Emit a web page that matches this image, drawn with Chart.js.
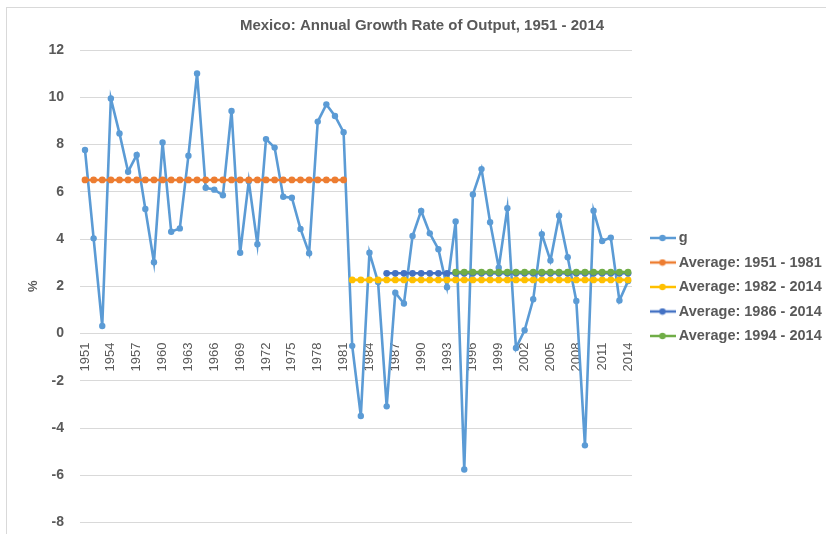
<!DOCTYPE html>
<html>
<head>
<meta charset="utf-8">
<script src="https://cdn.jsdelivr.net/npm/chart.js@4/dist/chart.umd.min.js"></script>
<style>
  html, body { margin: 0; padding: 0; background: #ffffff; overflow: hidden; width: 826px; height: 534px; }
  #frame { position: absolute; left: 6px; top: 7px; width: 900px; height: 600px; border-left: 1px solid #d9d9d9; border-top: 1px solid #d9d9d9; }
  #c { position: absolute; left: 0; top: 0; }
</style>
</head>
<body>
<div id="frame"></div>
<canvas id="c" width="844" height="547"></canvas>
<script>
// ---- data ----
const years = [1951,1952,1953,1954,1955,1956,1957,1958,1959,1960,1961,1962,1963,1964,1965,1966,1967,1968,1969,1970,
  1971,1972,1973,1974,1975,1976,1977,1978,1979,1980,1981,1982,1983,1984,1985,1986,1987,1988,1989,1990,
  1991,1992,1993,1994,1995,1996,1997,1998,1999,2000,2001,2002,2003,2004,2005,2006,2007,2008,2009,2010,
  2011,2012,2013,2014];
const growth = [7.77,4.03,0.32,9.95,8.47,6.85,7.56,5.27,3.02,8.09,4.31,4.45,7.53,11.01,6.17,6.09,5.85,9.42,3.42,6.45,
  3.78,8.23,7.87,5.79,5.75,4.43,3.40,8.97,9.70,9.21,8.52,-0.52,-3.49,3.42,2.18,-3.08,1.73,1.27,4.13,5.19,
  4.24,3.57,1.96,4.74,-5.75,5.89,6.96,4.71,2.79,5.30,-0.61,0.14,1.45,4.21,3.09,4.99,3.23,1.38,-4.73,5.20,
  3.92,4.06,1.40,2.22];
const avgLabels = ['Average: 1951 - 1981','Average: 1982 - 2014','Average: 1986 - 2014','Average: 1994 - 2014'];
const avgValues = [6.50, 2.27, 2.55, 2.60];
const avgStart = [1951, 1982, 1986, 1994];
const avgEnd = [1981, 2014, 2014, 2014];
const tickYears = [1951,1954,1957,1960,1963,1966,1969,1972,1975,1978,1981,1984,1987,1990,1993,1996,1999,2002,2005,2008,2011,2014];
const yTicks = [-8,-6,-4,-2,0,2,4,6,8,10,12];

// ---- styling ----
const gColor = '#5B9BD5';
const avgColors = ['#ED7D31', '#FFC000', '#4472C4', '#70AD47'];
const textGray = '#595959';
Chart.defaults.font.family = '"Liberation Sans", Arial, sans-serif';

function marker(color) {
  const cv = document.createElement('canvas');
  cv.width = 26; cv.height = 8;
  const x = cv.getContext('2d');
  x.strokeStyle = color; x.lineWidth = 2.5;
  x.beginPath(); x.moveTo(0, 4); x.lineTo(26, 4); x.stroke();
  x.fillStyle = color;
  x.beginPath(); x.arc(13, 4, 3.2, 0, Math.PI * 2); x.fill();
  return cv;
}
const markers = [marker(gColor)].concat(avgColors.map(marker));

const datasets = [{
  label: 'g',
  data: years.map((yr, i) => ({x: yr, y: growth[i]})),
  borderColor: gColor, backgroundColor: gColor,
  pointBackgroundColor: gColor, pointBorderColor: gColor,
  borderWidth: 2.6, pointRadius: 3.2, pointBorderWidth: 0, pointHoverRadius: 3.2,
  tension: 0, order: 5
}];
avgLabels.forEach((lab, k) => {
  datasets.push({
    label: lab,
    data: years.filter(yr => yr >= avgStart[k] && yr <= avgEnd[k]).map(yr => ({x: yr, y: avgValues[k]})),
    borderColor: avgColors[k], backgroundColor: avgColors[k],
    pointBackgroundColor: avgColors[k], pointBorderColor: avgColors[k],
    borderWidth: 2.6, pointRadius: 3.4, pointBorderWidth: 0, pointHoverRadius: 3.4,
    tension: 0, order: 4 - k
  });
});

const boxMover = {
  id: 'boxMover',
  afterLayout(chart) {
    const lg = chart.legend;
    if (lg) {
      const h = lg.bottom - lg.top;
      lg.left = 643.5; lg.right = 844; lg.width = lg.right - lg.left;
      lg.top += 13.5; lg.bottom = lg.top + h;
    }
    const tb = chart.titleBlock;
    if (tb) { tb.left = 0; tb.right = 844; tb.width = 844; }
  }
};

new Chart(document.getElementById('c'), {
  type: 'line',
  data: { datasets },
  plugins: [boxMover],
  options: {
    responsive: false,
    animation: false,
    events: [],
    layout: { padding: { left: 0, right: 62, top: 0, bottom: 0 } },
    scales: {
      x: {
        type: 'linear',
        position: { y: 0 },
        min: 1950.42, max: 2014.46,
        grid: { display: false, drawTicks: false },
        border: { display: false },
        afterBuildTicks: (scale) => { scale.ticks = tickYears.map(v => ({ value: v })); },
        ticks: {
          autoSkip: false, minRotation: 90, maxRotation: 90, padding: 9,
          color: textGray, font: { size: 13 },
          callback: (v) => String(v)
        }
      },
      y: {
        min: -8, max: 12,
        afterBuildTicks: (scale) => { scale.ticks = yTicks.map(v => ({ value: v })); },
        afterFit: (scale) => { scale.width = 80; },
        grid: { color: '#d9d9d9', lineWidth: 1, drawTicks: false },
        border: { display: false },
        ticks: { padding: 16, color: textGray, font: { size: 14, weight: 'bold' } },
        title: { display: true, text: '%', color: textGray, font: { size: 13, weight: 'bold' }, padding: { top: 26, bottom: 0 } }
      }
    },
    plugins: {
      title: {
        display: true,
        text: 'Mexico: Annual Growth Rate of Output, 1951 - 2014',
        color: textGray,
        font: { size: 15, weight: 'bold' },
        padding: { top: 17, bottom: 15 }
      },
      legend: {
        position: 'right',
        align: 'center',
        maxWidth: 150,
        labels: {
          usePointStyle: true,
          pointStyleWidth: 18,
          padding: 10,
          color: textGray,
          font: { size: 14.5, weight: 'bold' },
          sort: (a, b) => a.datasetIndex - b.datasetIndex,
          generateLabels: (chart) => {
            const items = Chart.defaults.plugins.legend.labels.generateLabels(chart);
            items.forEach(it => { it.pointStyle = markers[it.datasetIndex]; it.fontColor = textGray; });
            return items;
          }
        }
      },
      tooltip: { enabled: false }
    }
  }
});
</script>
</body>
</html>
